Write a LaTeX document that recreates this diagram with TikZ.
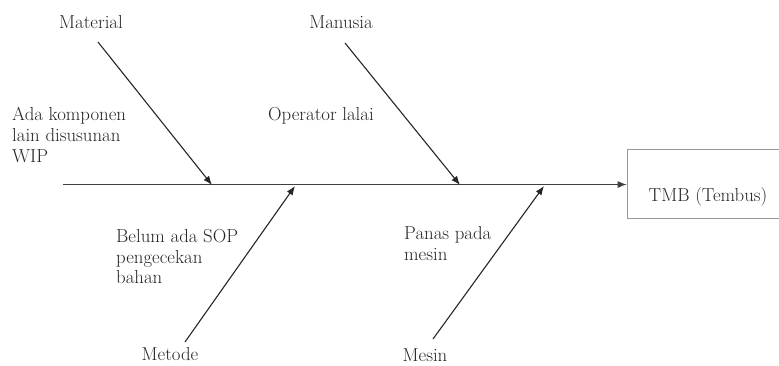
\documentclass[tikz,border=0pt]{standalone}
\usetikzlibrary{arrows.meta}
\begin{document}
\begin{tikzpicture}[x=1pt,y=-1pt,
  lbl/.style={inner sep=0pt, font=\fontsize{18.8}{20.8}\selectfont, text=black!85},
  multi/.style={lbl, align=left, anchor=north west},
  bone/.style={draw=black!85, line width=1.1pt, -{Latex[length=9pt,width=7pt]}},
  spine/.style={bone, draw=black!75, line width=0.9pt},
  effect/.style={draw=black!40, line width=0.8pt, minimum width=180pt, minimum height=69pt, inner sep=0pt}]
\useasboundingbox (0,0) rectangle (779,365);
% effect box (its right side runs past the picture's edge)
\node[effect] (box) at (717,184) {};
\node[lbl, anchor=base] (tmb) at (708,201) {TMB (Tembus)};
% spine
\coordinate (tail) at (63,184.5);
\draw[spine] (tail) -- (box.west |- tail);
% spine junctions
\coordinate (jmat) at (212,185);
\coordinate (jman) at (460,185);
\coordinate (jmet) at (295,186);
\coordinate (jmes) at (544,186);
% category labels
\node[lbl, anchor=base] (mat) at (91,28) {Material};
\node[lbl, anchor=base] (man) at (341,28) {Manusia};
\node[lbl, anchor=base] (met) at (170,360) {Metode};
\node[lbl, anchor=base] (mes) at (425,361) {Mesin};
% bone starts
\coordinate (smat) at (98,42);
\coordinate (sman) at (345,43);
\coordinate (smet) at (185,342);
\coordinate (smes) at (433,339);
\draw[bone] (smat) -- (jmat);
\draw[bone] (sman) -- (jman);
\draw[bone] (smet) -- (jmet);
\draw[bone] (smes) -- (jmes);
% causes
\node[multi] (c1) at (12,107) {Ada komponen\\lain disusunan\\WIP};
\node[lbl, anchor=base west] (c2) at (268,120) {Operator lalai};
\node[multi] (c3) at (116,229) {Belum ada SOP\\pengecekan\\bahan};
\node[multi] (c4) at (404,226) {Panas pada\\mesin};
\end{tikzpicture}
\end{document}
